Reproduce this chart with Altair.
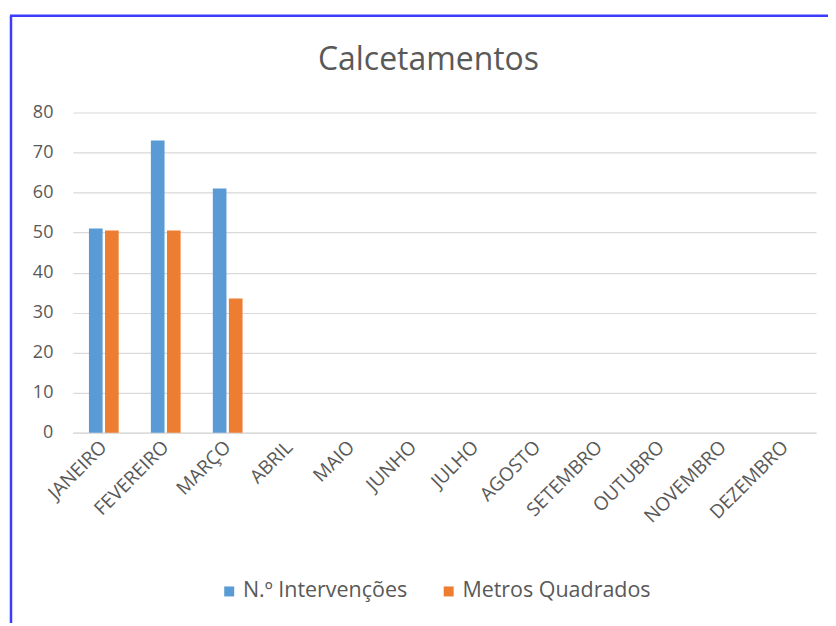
import altair as alt
import pandas as pd

meses = ["JANEIRO", "FEVEREIRO", "MARÇO", "ABRIL", "MAIO", "JUNHO", "JULHO",
         "AGOSTO", "SETEMBRO", "OUTUBRO", "NOVEMBRO", "DEZEMBRO"]
series = ["N.º Intervenções", "Metros Quadrados"]
intervencoes = [51, 73, 61]
metros_quadrados = [50.5, 50.5, 33.5]
y_ticks = [0, 10, 20, 30, 40, 50, 60, 70, 80]
cores = ["#5b9bd5", "#ed7d31"]

rows = []
for i, v in enumerate(intervencoes):
    rows.append({"mes": meses[i], "serie": series[0], "valor": v})
for i, v in enumerate(metros_quadrados):
    rows.append({"mes": meses[i], "serie": series[1], "valor": v})
df = pd.DataFrame(rows)

FONT = "Open Sans"
GREY = "#595959"

bars = alt.Chart(df).mark_bar().encode(
    x=alt.X("mes:N",
            scale=alt.Scale(domain=meses, paddingInner=0.52, paddingOuter=0.26),
            axis=alt.Axis(title=None, labelAngle=-45, labelAlign="right",
                          labelBaseline="middle", labelPadding=11,
                          labelFontSize=19, labelColor=GREY, labelFont=FONT,
                          ticks=False, domain=True, domainColor="#d9d9d9",
                          grid=False)),
    xOffset=alt.XOffset("serie:N", scale=alt.Scale(domain=series, paddingInner=0.15)),
    y=alt.Y("valor:Q",
            scale=alt.Scale(domain=[0, 80]),
            axis=alt.Axis(title=None, values=y_ticks, ticks=False, domain=False,
                          labelPadding=20, labelFontSize=18, labelColor=GREY,
                          labelFont=FONT, gridColor="#d9d9d9", gridWidth=1.2)),
    color=alt.Color("serie:N",
                    scale=alt.Scale(domain=series, range=cores),
                    legend=alt.Legend(title=None, orient="none", direction="horizontal",
                                      legendX=146, legendY=469,
                                      symbolType="square", symbolSize=100,
                                      symbolStrokeWidth=0,
                                      labelFontSize=21.5, labelColor=GREY, labelFont=FONT,
                                      columnPadding=30, labelOffset=3, labelLimit=300)),
)

edge = pd.DataFrame({"k": [0]})
left_line = alt.Chart(edge).mark_rule(color="#3c3cff", strokeWidth=2.5).encode(
    x=alt.value(-62), y=alt.value(-97), y2=alt.value(530))
top_line = alt.Chart(edge).mark_rule(color="#3c3cff", strokeWidth=2.5).encode(
    x=alt.value(-63), x2=alt.value(780), y=alt.value(-97))

chart = alt.layer(bars, left_line, top_line).properties(
    width=745, height=321,
    title=alt.TitleParams("Calcetamentos", fontSize=32, font=FONT, color=GREY,
                          fontWeight="normal", anchor="middle", offset=-63, dx=-16),
    autosize=alt.AutoSizeParams(type="none"),
    padding={"left": 65, "top": 104, "right": 12, "bottom": 190},
).configure(background="white").configure_view(stroke=None)

chart.save("out.html", embed_options={"renderer": "svg", "actions": False})
